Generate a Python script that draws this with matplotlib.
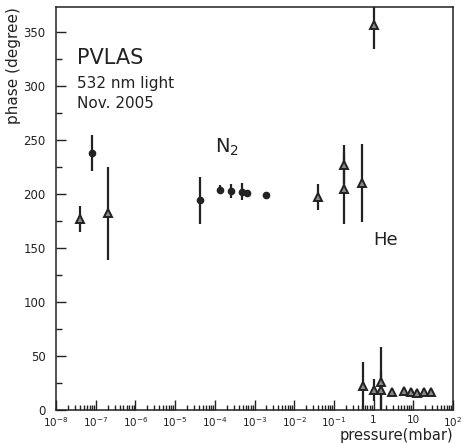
import numpy as np
import matplotlib
matplotlib.use("Agg")
import matplotlib.pyplot as plt
from matplotlib.ticker import LogLocator, FixedLocator, MultipleLocator

# N2 points (circles)
n2_p = [8.0e-8, 4.3e-5, 1.35e-4, 2.6e-4, 4.9e-4, 6.6e-4, 1.9e-3]
n2_phase = [238, 194, 204, 203, 202, 201, 199]
n2_err = [17, 22, 4, 6.5, 8, 0, 0]

# He points (triangles)
he_p = [4.0e-8, 2.0e-7, 0.04, 0.18, 0.18, 0.51, 1.0,
        0.54, 1.0, 1.53, 1.53, 2.9, 5.8, 8.8, 12.4, 18.6, 27.9]
he_phase = [177, 182, 197, 227, 205, 210, 356,
            22, 18.5, 26, 18.5, 17, 18, 17, 16, 17, 17]
he_err = [12, 43, 12, 18, 33, 36, 22,
          22, 10, 32, 18, 0, 0, 0, 0, 0, 0]

xtick_pos = [1e-8, 1e-7, 1e-6, 1e-5, 1e-4, 1e-3, 1e-2, 1e-1, 1, 10, 100]
xtick_lab = ['$10^{-8}$', '$10^{-7}$', '$10^{-6}$', '$10^{-5}$', '$10^{-4}$',
             '$10^{-3}$', '$10^{-2}$', '$10^{-1}$', '1', '10', '$10^{2}$']

fig = plt.figure(figsize=(4.64, 4.43), dpi=100)
ax = fig.add_axes([0.1207, 0.0745, 0.8556, 0.9095])

ink = '#222222'
ax.errorbar(n2_p, n2_phase, yerr=n2_err, fmt='o', color=ink, ms=4.5,
            elinewidth=1.6, capsize=0)
ax.errorbar(he_p, he_phase, yerr=he_err, fmt='^', mfc='#8a8a8a', mec=ink,
            mew=1.4, color=ink, ms=6, elinewidth=1.6, capsize=0)

ax.set_xscale('log')
ax.set_xlim(1e-8, 1e2)
ax.set_ylim(0, 373)

ax.xaxis.set_major_locator(FixedLocator(xtick_pos))
ax.set_xticklabels(xtick_lab)
ax.xaxis.set_minor_locator(LogLocator(base=10, subs=np.arange(2, 10), numticks=20))
ax.xaxis.set_minor_formatter(plt.NullFormatter())
ax.yaxis.set_major_locator(MultipleLocator(50))
ax.yaxis.set_minor_locator(MultipleLocator(25))

ax.tick_params(which='both', direction='in', top=False, right=False,
               color=ink, labelsize=8.5, labelcolor=ink)
ax.tick_params(axis='x', which='major', length=7, width=1, pad=3.5, labelsize=7.5)
ax.tick_params(axis='x', which='minor', length=3.5, width=1)
ax.tick_params(axis='y', which='major', length=7, width=1, pad=7.5)
ax.tick_params(axis='y', which='minor', length=4, width=1)
for s in ax.spines.values():
    s.set_color(ink)
    s.set_linewidth(1.1)

ax.text(0.052, 0.858, 'PVLAS', transform=ax.transAxes, fontsize=15, color=ink)
ax.text(0.052, 0.80, '532 nm light', transform=ax.transAxes, fontsize=11, color=ink)
ax.text(0.052, 0.749, 'Nov. 2005', transform=ax.transAxes, fontsize=11, color=ink)
ax.text(1e-4, 238, 'N$_2$', fontsize=14, color=ink)
ax.text(1.0, 153, 'He', fontsize=13, color=ink)

fig.text(0.977, 0.0, 'pressure(mbar)', ha='right', va='bottom',
         fontsize=10.5, color=ink)
fig.text(0.012, 0.985, 'phase (degree)', ha='left', va='top', rotation=90,
         fontsize=11, color=ink)

fig.savefig('out.png', dpi=100)
